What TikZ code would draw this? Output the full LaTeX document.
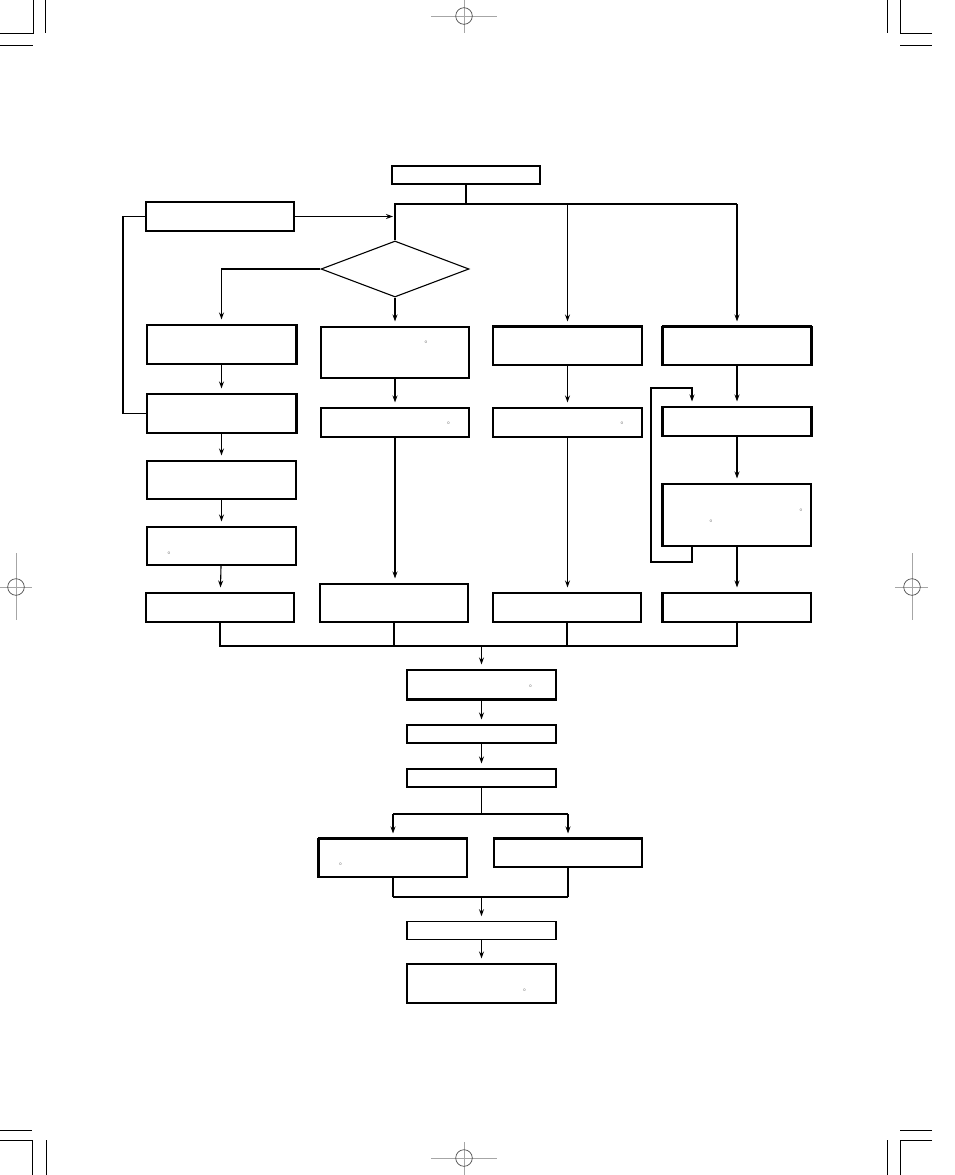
\documentclass[tikz,border=0pt]{standalone}
\usetikzlibrary{arrows.meta,shapes.geometric}
\begin{document}
\begin{tikzpicture}[x=1pt,y=-1pt,
  line width=1.1pt,
  box/.style={draw,rectangle,inner sep=0pt,minimum width=148pt},
  decision/.style={draw,diamond,inner sep=0pt,minimum width=148pt,minimum height=56pt},
  arr/.style={-{Stealth[length=7pt,width=5pt]},shorten >=5pt},
  heavy/.style={line width=2.4pt},
  deg/.style={inner sep=0pt,anchor=north,text=black!60,font=\fontsize{8}{8}\selectfont},
  regline/.style={line width=0.9pt,draw=black!35},
  regcirc/.style={line width=0.7pt,draw=black!70},
  crop/.style={line width=0.9pt}]
\useasboundingbox (0,0) rectangle (954,1175);

% ---- crop marks ----
\draw[crop] (0,33) -- (33,33) -- (33,0);
\draw[crop] (45,0) -- (45,33);
\draw[crop] (0,45) -- (33,45);
\draw[crop] (932,33) -- (900,33) -- (900,0);
\draw[crop] (887,0) -- (887,33);
\draw[crop] (900,45) -- (932,45);
\draw[crop] (0,1130) -- (32,1130);
\draw[crop] (0,1140) -- (32,1140) -- (32,1175);
\draw[crop] (46,1140) -- (46,1175);
\draw[crop] (932,1130) -- (900,1130);
\draw[crop] (932,1140) -- (900,1140) -- (900,1175);
\draw[crop] (887,1140) -- (887,1175);

% ---- registration marks ----
\draw[regline] (431,16) -- (497,16);
\draw[regline] (464,0) -- (464,33);
\draw[regcirc] (464,16) circle[radius=8.3pt];
\draw[regline] (0,587) -- (32,587);
\draw[regline] (16,553) -- (16,620);
\draw[regcirc] (16,587) circle[radius=8.3pt];
\draw[regline] (895,587) -- (928,587);
\draw[regline] (912,553) -- (912,620);
\draw[regcirc] (912,587) circle[radius=8.3pt];
\draw[regline] (431,1158) -- (497,1158);
\draw[regline] (464,1142) -- (464,1175);
\draw[regcirc] (464,1158) circle[radius=8.3pt];

% ---- nodes ----
\node[box,minimum height=18pt] (top) at (466,175) {};
\node[box,minimum height=29pt] (tl) at (220,216.5) {};
\node[decision] (dia) at (395,269) {};

\node[box,minimum width=149pt,minimum height=39pt] (L1) at (221.5,344.5) {};
\node[box,minimum width=149pt,minimum height=39pt] (L2) at (221.5,413.5) {};
\node[box,minimum width=149pt,minimum height=38pt] (L3) at (221.5,480) {};
\node[box,minimum width=149pt,minimum height=38pt] (L4) at (221.5,546) {};
\node[box,minimum height=29pt] (L5) at (220,607.5) {};

\node[box,minimum height=51pt] (Ma) at (395,352.5) {};
\node[box,minimum height=29pt] (Mb) at (395,422.5) {};
\node[box,minimum height=38pt] (Mc) at (394,603) {};

\node[box,minimum width=149pt,minimum height=38pt] (Ra) at (567.5,346) {};
\node[box,minimum width=149pt,minimum height=29pt] (Rb) at (567.5,422.5) {};
\node[box,minimum height=29pt] (Rc) at (567,607.5) {};

\node[box,minimum height=38pt] (Sa) at (737,346) {};
\node[box,minimum height=29pt] (Sb) at (737,421.5) {};
\node[box,minimum height=62pt] (Sc) at (737,515) {};
\node[box,minimum height=29pt] (Sd) at (737,607.5) {};

\node[box,minimum width=149pt,minimum height=29pt] (B1) at (481.5,684.5) {};
\node[box,minimum width=149pt,minimum height=18pt] (B2) at (481.5,734) {};
\node[box,minimum width=149pt,minimum height=18pt] (B3) at (481.5,778) {};
\node[box,minimum height=38pt] (D1) at (393,858) {};
\node[box,minimum height=28pt] (D2) at (568,853) {};
\node[box,minimum width=149pt,minimum height=17.5pt] (B4) at (481.5,930.5) {};
\node[box,minimum width=149pt,minimum height=39pt] (B5) at (481.5,983.5) {};

% heavier edges
\draw[heavy] (L1.north east) -- (L1.south east);
\draw[heavy] (L2.north east) -- (L2.south east);
\draw[heavy] (Ra.north west) -- (Ra.north east);
\draw[heavy] (Sa.north west) -- (Sa.north east);
\draw[heavy] (Sa.north west) -- (Sa.south west);
\draw[heavy] (Sa.north east) -- (Sa.south east);
\draw[heavy] (Sb.north west) -- (Sb.south west);
\draw[heavy] (Sb.north east) -- (Sb.south east);
\draw[heavy] (Sc.north west) -- (Sc.south west);
\draw[heavy] (Sd.north west) -- (Sd.south west);
\draw[heavy] (B1.south west) -- (B1.south east);
\draw[heavy] (D1.north west) -- (D1.north east);
\draw[heavy] (D1.north west) -- (D1.south west);
\draw[heavy] (D2.north west) -- (D2.north east);

% degree marks
\node[deg] (g1) at (426,340.5) {°};
\node[deg] (g2) at (448.5,421.5) {°};
\node[deg] (g3) at (622,421.5) {°};
\node[deg] (g4) at (801,508.5) {°};
\node[deg] (g5) at (711,519.5) {°};
\node[deg] (g6) at (169,551.5) {°};
\node[deg] (g7) at (530.5,684.5) {°};
\node[deg] (g8) at (340.5,862.5) {°};
\node[deg] (g9) at (524.5,988.5) {°};

% ---- helper coordinates ----
\coordinate (bus) at (0,204);
\coordinate (lp) at (123,0);
\coordinate (lx) at (692,0);
\coordinate (lb) at (651,562);
\coordinate (lt) at (651,388);
\coordinate (m) at (0,646);
\coordinate (s) at (0,814);
\coordinate (j) at (0,897);

% ---- connectors ----
\draw (top.south) -- (top.south |- bus);
\draw (dia.north) -- (dia.north |- bus) -- (Sa.north |- bus);
\draw[arr] (Ra.north |- bus) -- (Ra.north);
\draw[arr] (Sa.north |- bus) -- (Sa.north);
\draw[-{Stealth[length=7pt,width=5pt]},shorten >=2pt] (tl.east) -- (dia.north |- tl.east);
\draw (tl.west) -- (tl.west -| lp) |- (L2.west);
\draw[arr] (dia.west) -| (L1.north);
\draw[arr] (dia.south) -- (Ma.north);

\draw[arr] (L1) -- (L2);
\draw[arr] (L2) -- (L3);
\draw[arr] (L3) -- (L4);
\draw[arr] (L4) -- (L5);

\draw[arr,line width=1.8pt] (Ma) -- (Mb);
\draw[arr] (Mb) -- (Mb |- Mc.north);

\draw[arr] (Ra) -- (Rb);
\draw[arr] (Rb.south) -- (Rb.south |- Rc.north);

\draw[arr] (Sa) -- (Sb);
\draw[arr] (Sb) -- (Sc);
\draw[arr] (Sc) -- (Sd);
\draw[arr] (Sc.south -| lx) |- (lb) |- (lt) -| (Sb.north -| lx);

\draw (L5.south) -- (L5.south |- m) -- (Sd.south |- m) -- (Sd.south);
\draw (Mc.south) -- (Mc.south |- m);
\draw (Rc.south) -- (Rc.south |- m);
\draw[arr] (B1.north |- m) -- (B1.north);

\draw[arr] (B1) -- (B2);
\draw[arr] (B2) -- (B3);
\draw (B3.south) -- (B3.south |- s);
\draw[line width=1.8pt] (D1.north |- s) -- (D2.north |- s);
\draw[arr] (D1.north |- s) -- (D1.north);
\draw[arr] (D2.north |- s) -- (D2.north);
\draw (D1.south) -- (D1.south |- j);
\draw (D2.south) -- (D2.south |- j);
\draw[line width=1.8pt] (D1.south |- j) -- (D2.south |- j);
\draw[arr] (B4.north |- j) -- (B4.north);
\draw[arr] (B4) -- (B5);
\end{tikzpicture}
\end{document}
